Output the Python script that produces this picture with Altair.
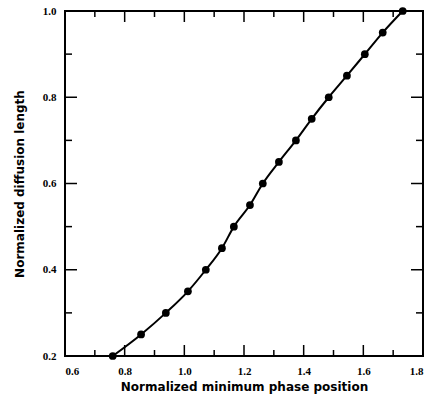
import altair as alt
import pandas as pd

# Data
pos = [0.760, 0.855, 0.938, 1.012, 1.072, 1.126, 1.166, 1.220, 1.263,
       1.317, 1.374, 1.427, 1.484, 1.545, 1.605, 1.665, 1.732]
length = [0.20, 0.25, 0.30, 0.35, 0.40, 0.45, 0.50, 0.55, 0.60,
          0.65, 0.70, 0.75, 0.80, 0.85, 0.90, 0.95, 1.00]
x_major = [0.6, 0.8, 1.0, 1.2, 1.4, 1.6, 1.8]
x_minor = [0.7, 0.9, 1.1, 1.3, 1.5, 1.7]
y_major = [0.2, 0.4, 0.6, 0.8, 1.0]
y_minor = [0.3, 0.5, 0.7, 0.9]

W, H = 358, 345
FONT = "Liberation Serif"
TFONT = "DejaVu Sans"
MAJ, MIN = 11, 6

df = pd.DataFrame({"pos": pos, "length": length})
xs = alt.Scale(domain=[0.6, 1.8], nice=False, zero=False)
ys = alt.Scale(domain=[0.2, 1.0], nice=False, zero=False)

XT = "Normalized minimum phase position"
YT = "Normalized diffusion length"
xaxis = alt.Axis(values=x_major, format=".1f", ticks=False, domain=False, grid=False,
                 labelPadding=9, titlePadding=5)
yaxis = alt.Axis(values=y_major, format=".1f", ticks=False, domain=False, grid=False,
                 labelPadding=9, titlePadding=16)

line = alt.Chart(df).mark_line(color="black", strokeWidth=2, interpolate="monotone").encode(
    x=alt.X("pos:Q", scale=xs, axis=xaxis, title=XT),
    y=alt.Y("length:Q", scale=ys, axis=yaxis, title=YT),
    order="pos:Q",
)
pts = alt.Chart(df).mark_point(filled=True, shape="circle", size=60, color="black", opacity=1).encode(
    x=alt.X("pos:Q", scale=xs, axis=xaxis, title=XT),
    y=alt.Y("length:Q", scale=ys, axis=yaxis, title=YT),
)


def xticks(vals, n):
    d = pd.DataFrame({"v": vals})
    b = alt.Chart(d).mark_rule(color="black", strokeWidth=1.5).encode(
        x=alt.X("v:Q", scale=xs, axis=xaxis, title=XT), y=alt.value(H), y2=alt.value(H - n))
    t = alt.Chart(d).mark_rule(color="black", strokeWidth=1.5).encode(
        x=alt.X("v:Q", scale=xs, axis=xaxis, title=XT), y=alt.value(0), y2=alt.value(n))
    return [b, t]


def yticks(vals, n):
    d = pd.DataFrame({"v": vals})
    l = alt.Chart(d).mark_rule(color="black", strokeWidth=1.5).encode(
        y=alt.Y("v:Q", scale=ys, axis=yaxis, title=YT), x=alt.value(0), x2=alt.value(n))
    r = alt.Chart(d).mark_rule(color="black", strokeWidth=1.5).encode(
        y=alt.Y("v:Q", scale=ys, axis=yaxis, title=YT), x=alt.value(W), x2=alt.value(W - n))
    return [l, r]


layers = [line, pts] + xticks(x_major, MAJ) + xticks(x_minor, MIN) + yticks(y_major, MAJ + 1) + yticks(y_minor, MIN + 1)

chart = alt.layer(*layers).properties(
    width=W, height=H,
    autosize=alt.AutoSizeParams(type="none"),
    padding={"left": 65, "top": 11, "right": 13, "bottom": 41},
    background="white",
).configure_view(
    stroke="black", strokeWidth=2
).configure_axis(
    labelFont=FONT, labelFontSize=11, labelFontWeight="bold", labelColor="black",
    titleFont=TFONT, titleFontSize=12, titleFontWeight="bold", titleColor="black",
)

chart.save("out.html", embed_options={"renderer": "svg", "actions": False})
